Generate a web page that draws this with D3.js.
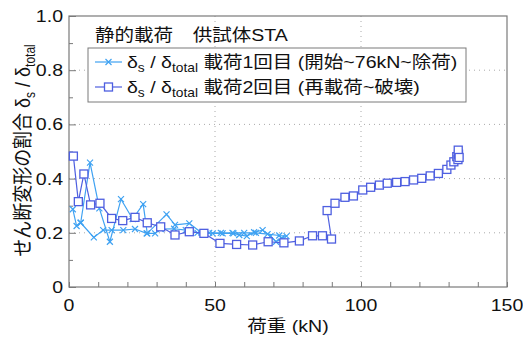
<!DOCTYPE html>
<html>
<head>
<meta charset="utf-8">
<script src="https://cdn.jsdelivr.net/npm/d3@7"></script>
<style>
body{margin:0;background:#fff;}
text{font-family:"Liberation Sans","Noto Sans CJK JP",sans-serif;fill:#111;}
</style>
</head>
<body>
<svg id="chart" width="523" height="338"></svg>
<script>
// series 1: loading 0 -> 76kN -> unloading
var load1 = [1.3, 2.6, 4.0, 7.2, 10.4, 14.0, 17.8, 21.8, 25.4, 26.8, 33.4, 36.3, 41.2, 45.4, 49.2, 52.6, 56.3, 58.3, 60.9, 63.4, 66.3, 69.0, 70.9, 72.8, 74.5,
             72.0, 68.0, 64.0, 60.0, 56.0, 52.0, 48.0, 44.0, 40.0, 36.0, 31.4, 29.5, 26.6, 22.6, 18.6, 14.6, 11.7, 8.5, 4.0];
var ratio1 = [0.287, 0.225, 0.237, 0.459, 0.29, 0.167, 0.324, 0.251, 0.306, 0.198, 0.268, 0.229, 0.235, 0.2, 0.198, 0.198, 0.198, 0.192, 0.188, 0.202, 0.21, 0.188, 0.167, 0.18, 0.188,
              0.19, 0.195, 0.2, 0.2, 0.2, 0.2, 0.2, 0.2, 0.21, 0.215, 0.214, 0.198, 0.198, 0.214, 0.21, 0.21, 0.21, 0.183, 0.237];
// series 2: reloading -> failure
var load2 = [1.5, 3.2, 5.1, 7.4, 10.6, 14.6, 18.4, 22.6, 26.8, 31.4, 36.3, 41.2, 46.2, 51.7, 57.4, 62.9, 68.2, 73.6, 78.9, 83.4, 86.8, 89.9,
             88.4, 91.1, 94.5, 97.4, 100.6, 103.3, 106.3, 109.0, 112.2, 115.1, 118.0, 120.8, 123.7, 126.5, 129.4, 130.8, 131.8, 132.8, 133.2, 133.4, 133.3, 133.6];
var ratio2 = [0.483, 0.315, 0.417, 0.303, 0.309, 0.253, 0.245, 0.257, 0.237, 0.222, 0.192, 0.204, 0.198, 0.161, 0.157, 0.155, 0.167, 0.163, 0.17, 0.189, 0.189, 0.177,
              0.282, 0.309, 0.331, 0.336, 0.358, 0.368, 0.376, 0.383, 0.386, 0.389, 0.395, 0.401, 0.41, 0.419, 0.434, 0.45, 0.462, 0.481, 0.47, 0.49, 0.505, 0.478];
var xTicks = [0, 50, 100, 150];
var yTicks = [0, 0.2, 0.4, 0.6, 0.8, 1.0];
var yTickLabels = ['0', '0.2', '0.4', '0.6', '0.8', '1.0'];
var legendNames = ['載荷1回目 (開始~76kN~除荷)', '載荷2回目 (再載荷~破壊)'];

var c1 = '#3fa2f2', c2 = '#4e5fe0', frame = '#7a7a7a';
var W = 523, H = 338, m = {l: 69, r: 16, t: 16, b: 51};
var SX = 1.15; // text in the picture is a bit wide
var svg = d3.select('#chart');
var x = d3.scaleLinear().domain([0, 150]).range([m.l, W - m.r]);
var y = d3.scaleLinear().domain([0, 1]).range([H - m.b, m.t]);

function label(sel, px, py, size, anchor) {
  return sel.append('text')
    .attr('transform', 'translate(' + px + ',' + py + ') scale(' + SX + ',1)')
    .attr('text-anchor', anchor || 'start').style('font-size', size + 'px');
}
function ratioLabel(t) {
  t.append('tspan').text('δ');
  t.append('tspan').attr('dy', 4).style('font-size', '12px').text('s');
  t.append('tspan').attr('dy', -4).text(' / δ');
  t.append('tspan').attr('dy', 4).style('font-size', '12px').text('total');
}

//dotted grid
var g = svg.append('g');
g.selectAll('.gx').data([50, 100]).enter().append('line')
  .attr('x1', d => x(d)).attr('x2', d => x(d)).attr('y1', y(0)).attr('y2', y(1))
  .attr('stroke', '#aaa').attr('stroke-dasharray', '1,4');
g.selectAll('.gy').data([0.2, 0.4, 0.6, 0.8]).enter().append('line')
  .attr('y1', d => y(d)).attr('y2', d => y(d)).attr('x1', x(0)).attr('x2', x(150))
  .attr('stroke', '#aaa').attr('stroke-dasharray', '1,4');

//axes with inward ticks
var ax = svg.append('g').attr('transform', 'translate(0,' + y(0) + ')')
  .call(d3.axisBottom(x).tickValues(d3.range(0, 151, 10)).tickSize(-5).tickFormat(''));
var ay = svg.append('g').attr('transform', 'translate(' + x(0) + ',0)')
  .call(d3.axisLeft(y).tickValues(d3.range(0, 1.01, 0.1)).tickSize(-5).tickFormat(''));
ay.selectAll('.tick line').attr('x2', (d, i) => i % 2 ? 4 : 7);
[ax, ay].forEach(function (a) {
  a.select('.domain').remove();
  a.selectAll('.tick line').attr('stroke', frame);
});
svg.append('rect').attr('x', x(0)).attr('y', y(1)).attr('width', x(150) - x(0)).attr('height', y(0) - y(1))
  .attr('fill', 'none').attr('stroke', frame).attr('stroke-width', 1.2);

xTicks.forEach(function (d) {
  label(svg, x(d), y(0) + 24, 17, 'middle').text(d);
});
yTicks.forEach(function (d, i) {
  label(svg, x(0) - 6, y(d) + 6, 17, 'end').text(yTickLabels[i]);
});

label(svg, x(75), 332, 17, 'middle').text('荷重 (kN)');
var yt = svg.append('text').attr('transform', 'translate(30,' + (y(0.5) - 1) + ') rotate(-90) scale(1,' + SX + ')')
  .attr('text-anchor', 'middle').style('font-size', '18px');
yt.append('tspan').text('せん断変形の割合 ');
ratioLabel(yt);

//series
var line = d3.line().x(d => x(d[0])).y(d => y(d[1]));
var s1 = load1.map((d, i) => [d, ratio1[i]]);
var s2 = load2.map((d, i) => [d, ratio2[i]]);
function crosses(sel, pts, col) {
  sel.selectAll('path.cx').data(pts).enter().append('path')
    .attr('d', d => 'M' + (x(d[0]) - 3) + ',' + (y(d[1]) - 3) + 'l6,6M' + (x(d[0]) - 3) + ',' + (y(d[1]) + 3) + 'l6,-6')
    .attr('stroke', col).attr('stroke-width', 1.2);
}
function squares(sel, pts, col) {
  sel.selectAll('rect.sq').data(pts).enter().append('rect')
    .attr('x', d => x(d[0]) - 4).attr('y', d => y(d[1]) - 4).attr('width', 8).attr('height', 8)
    .attr('fill', 'white').attr('stroke', col).attr('stroke-width', 1.3);
}
var p1 = svg.append('g');
p1.append('path').attr('d', line(s1)).attr('fill', 'none').attr('stroke', c1).attr('stroke-width', 1.2);
crosses(p1, s1, c1);
var p2 = svg.append('g');
p2.append('path').attr('d', line(s2)).attr('fill', 'none').attr('stroke', c2).attr('stroke-width', 1.2);
squares(p2, s2, c2);

//annotation + legend
label(svg, 95, 41, 17).text('静的載荷　供試体STA');
var lg = svg.append('g');
lg.append('rect').attr('x', 88).attr('y', 48).attr('width', 378).attr('height', 54)
  .attr('fill', 'white').attr('stroke', frame).attr('stroke-width', 1);
[0, 1].forEach(function (i) {
  var yy = 62 + i * 25, col = i ? c2 : c1;
  lg.append('line').attr('x1', 95).attr('x2', 122).attr('y1', yy).attr('y2', yy).attr('stroke', col).attr('stroke-width', 1.2);
  if (i) squares(lg, [[x.invert(108.5), y.invert(yy)]], col);
  else crosses(lg, [[x.invert(108.5), y.invert(yy)]], col);
  var t = label(lg, 127, yy + 6, 17);
  ratioLabel(t);
  t.append('tspan').attr('dy', -4).text(' ' + legendNames[i]);
});
</script>
</body>
</html>
